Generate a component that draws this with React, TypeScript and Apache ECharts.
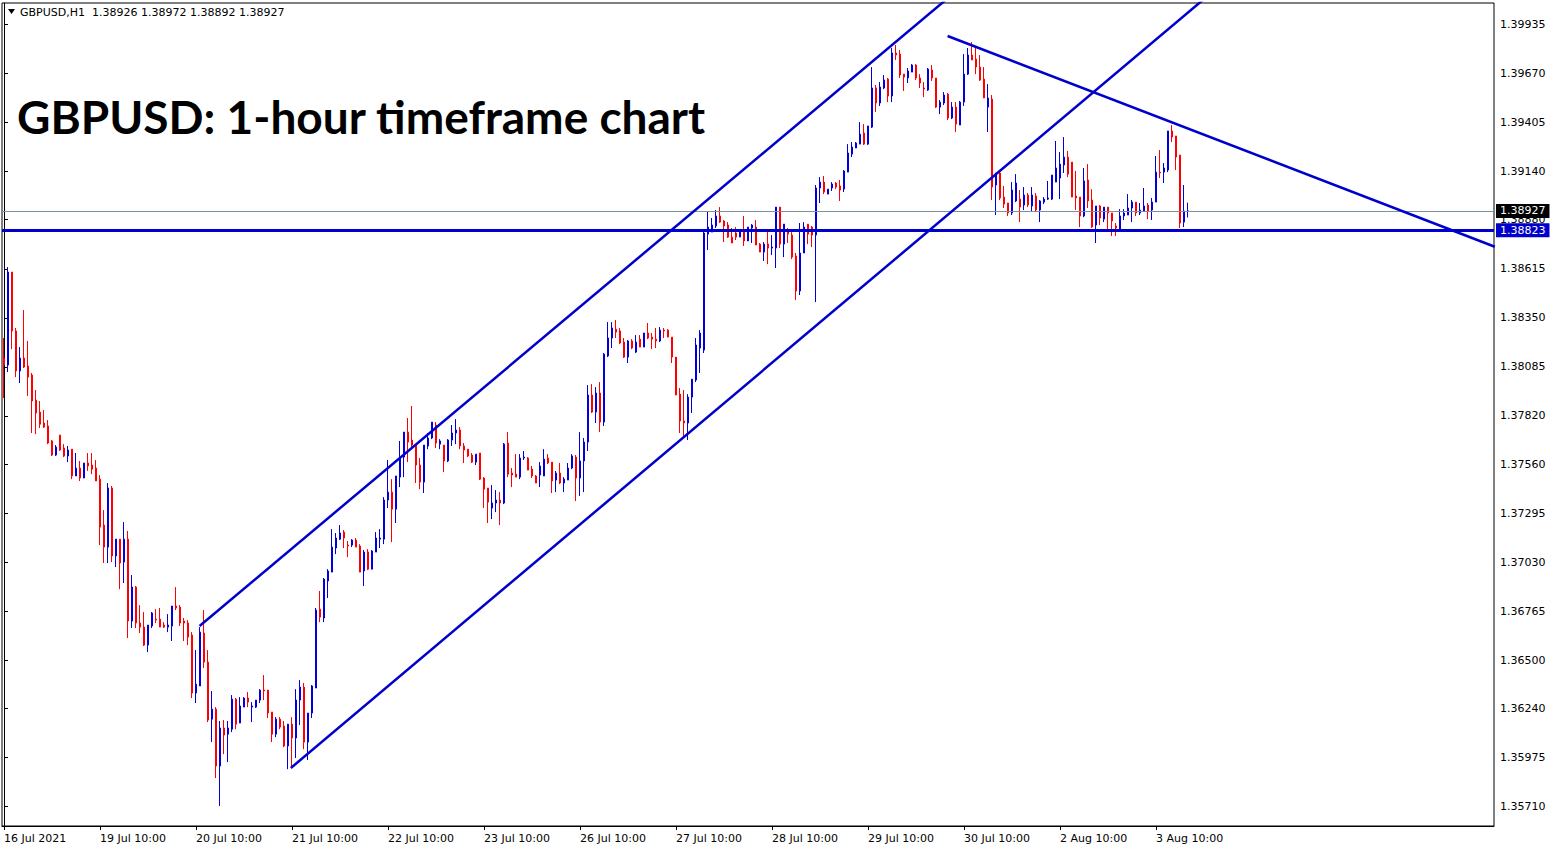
import React, { useEffect, useRef } from "react";
import * as echarts from "echarts";

// ---- Data (GBPUSD H1, 16 Jul 2021 10:00 .. 3 Aug 2021 18:00) ----
const openPrices = [
  1.38133,1.38095,1.38597,1.38279,1.38063,1.38133,1.38090,1.38041,1.37906,1.37841,
  1.37782,1.37766,1.37685,1.37609,1.37717,1.37647,1.37604,1.37641,1.37496,1.37539,
  1.37485,1.37566,1.37555,1.37539,1.37479,1.37231,1.37112,1.37431,1.37064,1.37155,
  1.37031,1.37155,1.36713,1.36896,1.36702,1.36680,1.36583,1.36686,1.36723,1.36723,
  1.36691,1.36680,1.36686,1.36794,1.36788,1.36713,1.36702,1.36637,1.36324,1.36362,
  1.36648,1.36491,1.36183,1.36237,1.35930,1.36135,1.36102,1.36129,1.36291,1.36162,
  1.36248,1.36297,1.36248,1.36248,1.36286,1.36340,1.36340,1.36221,1.36102,1.36183,
  1.36146,1.36038,1.36156,1.36081,1.36286,1.36356,1.36059,1.36216,1.36351,1.36777,
  1.36729,1.36929,1.36977,1.37107,1.37155,1.37193,1.37123,1.37123,1.37150,1.37118,
  1.36983,1.37085,1.36993,1.37085,1.37155,1.37155,1.37366,1.37409,1.37317,1.37490,
  1.37598,1.37733,1.37690,1.37663,1.37555,1.37463,1.37658,1.37701,1.37771,1.37668,
  1.37663,1.37577,1.37690,1.37728,1.37744,1.37658,1.37641,1.37609,1.37571,1.37620,
  1.37485,1.37431,1.37323,1.37350,1.37366,1.37350,1.37674,1.37512,1.37506,1.37490,
  1.37593,1.37593,1.37533,1.37496,1.37501,1.37496,1.37593,1.37571,1.37474,1.37512,
  1.37458,1.37474,1.37539,1.37598,1.37485,1.37577,1.37679,1.37933,1.37841,1.37944,
  1.37787,1.38144,1.38241,1.38289,1.38279,1.38219,1.38138,1.38225,1.38165,1.38235,
  1.38192,1.38268,1.38246,1.38235,1.38225,1.38284,1.38284,1.38246,1.38138,1.37938,
  1.37793,1.37782,1.37922,1.38014,1.38187,1.38176,1.38802,1.38813,1.38846,1.38900,
  1.38873,1.38851,1.38786,1.38808,1.38786,1.38824,1.38765,1.38835,1.38840,1.38748,
  1.38705,1.38748,1.38727,1.38727,1.38948,1.38748,1.38819,1.38797,1.38684,1.38495,
  1.38700,1.38856,1.38840,1.38797,1.39051,1.39083,1.39018,1.39051,1.39078,1.39062,
  1.39045,1.39137,1.39234,1.39267,1.39288,1.39348,1.39288,1.39380,1.39591,1.39510,
  1.39591,1.39639,1.39548,1.39780,1.39774,1.39666,1.39645,1.39677,1.39715,1.39645,
  1.39591,1.39580,1.39688,1.39645,1.39488,1.39510,1.39558,1.39429,1.39488,1.39391,
  1.39515,1.39666,1.39769,1.39747,1.39704,1.39639,1.39488,1.39531,1.39067,1.39132,
  1.39002,1.38970,1.38916,1.38981,1.38991,1.38959,1.39013,1.38954,1.39008,1.38932,
  1.38975,1.38991,1.38991,1.39083,1.39105,1.39175,1.39218,1.39191,1.39008,1.39002,
  1.38900,1.39094,1.38986,1.38851,1.38954,1.38883,1.38948,1.38916,1.38846,1.38829,
  1.38900,1.38905,1.38943,1.38975,1.38916,1.38927,1.38959,1.38932,1.38975,1.39137,
  1.39137,1.39148,1.39359,1.39332,1.39229,1.38867,1.38926,
];

const closePrices = [
  1.38095,1.38597,1.38279,1.38063,1.38133,1.38084,1.38030,1.37901,1.37836,1.37776,
  1.37760,1.37674,1.37609,1.37652,1.37636,1.37604,1.37636,1.37496,1.37539,1.37485,
  1.37566,1.37550,1.37533,1.37469,1.37220,1.37112,1.37431,1.37064,1.37155,1.37026,
  1.37155,1.36713,1.36896,1.36702,1.36680,1.36583,1.36691,1.36756,1.36718,1.36680,
  1.36680,1.36691,1.36794,1.36783,1.36702,1.36702,1.36626,1.36324,1.36372,1.36653,
  1.36491,1.36178,1.36237,1.35930,1.36135,1.36097,1.36135,1.36291,1.36156,1.36254,
  1.36297,1.36275,1.36254,1.36286,1.36340,1.36335,1.36216,1.36102,1.36183,1.36140,
  1.36038,1.36156,1.36081,1.36286,1.36356,1.36059,1.36216,1.36362,1.36772,1.36734,
  1.36939,1.36983,1.37112,1.37161,1.37188,1.37161,1.37118,1.37150,1.37112,1.36977,
  1.37085,1.36993,1.37091,1.37161,1.37161,1.37366,1.37409,1.37317,1.37496,1.37598,
  1.37733,1.37679,1.37663,1.37555,1.37463,1.37663,1.37701,1.37787,1.37674,1.37685,
  1.37577,1.37690,1.37728,1.37744,1.37658,1.37636,1.37604,1.37571,1.37614,1.37479,
  1.37425,1.37355,1.37350,1.37366,1.37350,1.37668,1.37506,1.37501,1.37490,1.37593,
  1.37598,1.37528,1.37496,1.37458,1.37550,1.37587,1.37566,1.37469,1.37512,1.37458,
  1.37479,1.37539,1.37604,1.37485,1.37577,1.37679,1.37933,1.37841,1.37944,1.37787,
  1.38154,1.38241,1.38295,1.38273,1.38214,1.38138,1.38225,1.38187,1.38219,1.38192,
  1.38268,1.38241,1.38235,1.38225,1.38284,1.38279,1.38246,1.38138,1.37933,1.37793,
  1.37782,1.37922,1.38019,1.38203,1.38268,1.38808,1.38840,1.38851,1.38900,1.38867,
  1.38846,1.38786,1.38754,1.38786,1.38819,1.38765,1.38840,1.38851,1.38743,1.38705,
  1.38748,1.38727,1.38732,1.38948,1.38748,1.38856,1.38802,1.38678,1.38495,1.38700,
  1.38840,1.38802,1.38797,1.39051,1.39083,1.39029,1.39045,1.39072,1.39056,1.39040,
  1.39143,1.39240,1.39272,1.39294,1.39342,1.39288,1.39386,1.39591,1.39510,1.39596,
  1.39634,1.39548,1.39780,1.39769,1.39661,1.39650,1.39683,1.39715,1.39645,1.39618,
  1.39585,1.39693,1.39645,1.39488,1.39515,1.39553,1.39429,1.39488,1.39396,1.39515,
  1.39666,1.39769,1.39742,1.39704,1.39634,1.39537,1.39537,1.39056,1.39132,1.38997,
  1.38964,1.38916,1.39040,1.39078,1.38948,1.39013,1.38959,1.39013,1.38932,1.38981,
  1.38991,1.38997,1.39121,1.39159,1.39180,1.39218,1.39126,1.39002,1.38997,1.38900,
  1.39089,1.38981,1.38840,1.38954,1.38889,1.38948,1.38916,1.38873,1.38835,1.38900,
  1.38916,1.38943,1.38975,1.38916,1.38932,1.38954,1.38927,1.38975,1.39137,1.39132,
  1.39159,1.39359,1.39326,1.39218,1.38862,1.38927,1.38927,
];

const highPrices = [
  1.38241,1.38624,1.38597,1.38295,1.38192,1.38392,1.38225,1.38052,1.37960,1.37901,
  1.37852,1.37798,1.37690,1.37663,1.37717,1.37668,1.37658,1.37641,1.37620,1.37577,
  1.37566,1.37620,1.37620,1.37582,1.37501,1.37312,1.37458,1.37442,1.37155,1.37155,
  1.37247,1.37199,1.36961,1.36902,1.36799,1.36761,1.36691,1.36761,1.36777,1.36783,
  1.36707,1.36750,1.36794,1.36896,1.36799,1.36729,1.36718,1.36653,1.36556,1.36680,
  1.36772,1.36556,1.36335,1.36248,1.36173,1.36178,1.36173,1.36313,1.36297,1.36302,
  1.36302,1.36329,1.36275,1.36286,1.36345,1.36421,1.36340,1.36221,1.36194,1.36194,
  1.36173,1.36156,1.36194,1.36345,1.36394,1.36378,1.36216,1.36367,1.36783,1.36875,
  1.36945,1.36993,1.37209,1.37188,1.37231,1.37204,1.37145,1.37155,1.37161,1.37128,
  1.37096,1.37101,1.37096,1.37193,1.37209,1.37382,1.37582,1.37479,1.37496,1.37685,
  1.37733,1.37809,1.37874,1.37663,1.37593,1.37663,1.37728,1.37787,1.37787,1.37695,
  1.37663,1.37695,1.37771,1.37803,1.37760,1.37674,1.37641,1.37620,1.37614,1.37620,
  1.37490,1.37431,1.37447,1.37420,1.37409,1.37674,1.37733,1.37539,1.37614,1.37614,
  1.37631,1.37598,1.37550,1.37501,1.37571,1.37641,1.37614,1.37571,1.37523,1.37566,
  1.37490,1.37566,1.37614,1.37609,1.37733,1.37701,1.37987,1.37992,1.37976,1.38003,
  1.38160,1.38327,1.38327,1.38338,1.38295,1.38241,1.38230,1.38235,1.38257,1.38257,
  1.38268,1.38322,1.38268,1.38295,1.38300,1.38295,1.38289,1.38246,1.38138,1.37971,
  1.37960,1.37938,1.38019,1.38241,1.38284,1.38819,1.38927,1.38889,1.38932,1.38948,
  1.38878,1.38867,1.38835,1.38840,1.38819,1.38900,1.38840,1.38856,1.38878,1.38754,
  1.38759,1.38813,1.38797,1.38948,1.38948,1.38856,1.38835,1.38813,1.38700,1.38862,
  1.38867,1.38856,1.38846,1.39067,1.39110,1.39116,1.39045,1.39083,1.39083,1.39094,
  1.39148,1.39288,1.39299,1.39299,1.39407,1.39396,1.39386,1.39704,1.39607,1.39623,
  1.39661,1.39645,1.39807,1.39823,1.39796,1.39666,1.39699,1.39720,1.39720,1.39666,
  1.39623,1.39699,1.39715,1.39645,1.39526,1.39569,1.39564,1.39515,1.39515,1.39521,
  1.39774,1.39807,1.39839,1.39807,1.39769,1.39704,1.39612,1.39553,1.39132,1.39148,
  1.39062,1.38970,1.39083,1.39126,1.39040,1.39056,1.39024,1.39056,1.39024,1.38986,
  1.39002,1.39089,1.39121,1.39305,1.39245,1.39326,1.39251,1.39191,1.39143,1.39002,
  1.39159,1.39180,1.39045,1.38954,1.38959,1.38948,1.38948,1.38916,1.38862,1.38937,
  1.38937,1.39018,1.38986,1.38975,1.38970,1.39051,1.38970,1.38997,1.39224,1.39256,
  1.39186,1.39359,1.39391,1.39332,1.39229,1.39067,1.38972,
];

const lowPrices = [
  1.37917,1.38057,1.38181,1.38030,1.37998,1.38079,1.37928,1.37728,1.37722,1.37755,
  1.37755,1.37668,1.37604,1.37604,1.37631,1.37598,1.37571,1.37479,1.37496,1.37469,
  1.37485,1.37523,1.37506,1.37469,1.37123,1.37026,1.37026,1.37031,1.37004,1.36885,
  1.36918,1.36621,1.36675,1.36675,1.36648,1.36578,1.36545,1.36675,1.36702,1.36680,
  1.36675,1.36653,1.36605,1.36772,1.36686,1.36605,1.36583,1.36297,1.36270,1.36362,
  1.36459,1.36167,1.36059,1.35865,1.35714,1.35994,1.35951,1.36113,1.36129,1.36162,
  1.36248,1.36248,1.36167,1.36243,1.36270,1.36286,1.36189,1.36059,1.36086,1.36129,
  1.36032,1.35913,1.35924,1.35973,1.36151,1.36021,1.35962,1.36189,1.36351,1.36707,
  1.36707,1.36837,1.36977,1.37074,1.37150,1.37107,1.37058,1.37112,1.37112,1.36977,
  1.36902,1.36988,1.36993,1.37085,1.37107,1.37128,1.37323,1.37139,1.37242,1.37436,
  1.37490,1.37571,1.37652,1.37458,1.37425,1.37404,1.37641,1.37695,1.37647,1.37641,
  1.37517,1.37571,1.37658,1.37668,1.37641,1.37566,1.37598,1.37566,1.37555,1.37474,
  1.37323,1.37242,1.37263,1.37301,1.37231,1.37344,1.37490,1.37436,1.37490,1.37479,
  1.37582,1.37528,1.37485,1.37458,1.37436,1.37496,1.37560,1.37404,1.37409,1.37452,
  1.37409,1.37474,1.37533,1.37361,1.37388,1.37409,1.37631,1.37836,1.37782,1.37733,
  1.37766,1.38138,1.38187,1.38241,1.38208,1.38133,1.38106,1.38181,1.38160,1.38192,
  1.38192,1.38235,1.38181,1.38187,1.38219,1.38241,1.38246,1.38106,1.37933,1.37728,
  1.37712,1.37690,1.37836,1.38003,1.38052,1.38160,1.38716,1.38813,1.38835,1.38862,
  1.38759,1.38781,1.38754,1.38770,1.38786,1.38738,1.38765,1.38754,1.38743,1.38705,
  1.38657,1.38640,1.38689,1.38619,1.38727,1.38678,1.38754,1.38667,1.38446,1.38473,
  1.38700,1.38748,1.38732,1.38435,1.38970,1.39018,1.39018,1.39035,1.39045,1.38981,
  1.39029,1.39137,1.39218,1.39267,1.39288,1.39283,1.39283,1.39375,1.39461,1.39494,
  1.39585,1.39515,1.39515,1.39742,1.39645,1.39575,1.39618,1.39677,1.39634,1.39591,
  1.39542,1.39575,1.39629,1.39483,1.39450,1.39499,1.39418,1.39423,1.39353,1.39391,
  1.39494,1.39661,1.39742,1.39666,1.39629,1.39537,1.39353,1.38986,1.38905,1.38986,
  1.38943,1.38900,1.38905,1.38975,1.38867,1.38932,1.38948,1.38927,1.38921,1.38867,
  1.38964,1.38986,1.38986,1.39083,1.38991,1.39132,1.39110,1.39002,1.38932,1.38840,
  1.38894,1.38943,1.38835,1.38754,1.38851,1.38867,1.38829,1.38792,1.38792,1.38829,
  1.38878,1.38905,1.38867,1.38900,1.38905,1.38927,1.38883,1.38878,1.38975,1.39105,
  1.39078,1.39137,1.39299,1.39148,1.38835,1.38840,1.38892,
];

const priceTicks = [
  1.39935, 1.3967, 1.39405, 1.3914, 1.3888, 1.38615, 1.3835, 1.38085, 1.3782,
  1.3756, 1.37295, 1.3703, 1.36765, 1.365, 1.3624, 1.35975, 1.3571,
];
const priceMin = 1.35606;
const priceMax = 1.4005;
const bidPrice = 1.38927;
const supportPrice = 1.38823;
// trend lines: [bar index, price] anchor pairs
const channelUpper = [[48.9, 1.36686], [235.4, 1.40066]];
const channelLower = [[71.7, 1.35919], [299.7, 1.40066]];
const resistanceLine = [[235.9, 1.39872], [372.7, 1.38734]];

const headerText = "GBPUSD,H1  1.38926 1.38972 1.38892 1.38927";
const titleText = "GBPUSD: 1-hour timeframe chart";
const TOTAL_SLOTS = 373; // bars + empty chart shift on the right
const LABEL_EVERY = 24;
const LAST_LABEL_INDEX = 288;

const MONTHS = ["Jan", "Feb", "Mar", "Apr", "May", "Jun", "Jul", "Aug", "Sep", "Oct", "Nov", "Dec"];

function buildCategories(count: number): string[] {
  const out: string[] = [];
  let t = Date.UTC(2021, 6, 16, 10);
  while (out.length < count) {
    const d = new Date(t);
    const wd = d.getUTCDay();
    if (wd !== 0 && wd !== 6) {
      const hh = String(d.getUTCHours()).padStart(2, "0");
      out.push(`${d.getUTCDate()} ${MONTHS[d.getUTCMonth()]} ${hh}:00`);
    }
    t += 3600 * 1000;
  }
  return out;
}

const FONT = "DejaVu Sans";
const BULL = "#0000DD";
const BEAR = "#FF0000";
const LINE_BLUE = "#0000CC";

const priceLabel = (bg: string) => ({
  show: true,
  position: "end",
  backgroundColor: bg,
  color: "#fff",
  padding: [2, 4, 1, 4],
  fontFamily: FONT,
  fontSize: 11,
  distance: 2,
});

export default function App() {
  const ref = useRef<HTMLDivElement>(null);

  useEffect(() => {
    document.body.style.margin = "0";
    if (!ref.current) return;
    const chart = echarts.init(ref.current, undefined, { renderer: "svg" });
    const categories = buildCategories(TOTAL_SLOTS);
    const n = Math.min(openPrices.length, closePrices.length, highPrices.length, lowPrices.length);
    const candles: number[][] = [];
    for (let i = 0; i < n; i++) {
      candles.push([openPrices[i], closePrices[i], lowPrices[i], highPrices[i]]);
    }
    const showLabel = (idx: number) => idx % LABEL_EVERY === 0 && idx <= LAST_LABEL_INDEX;

    const trend = (data: number[][], extra: any = {}) => ({
      type: "line",
      xAxisIndex: 1,
      yAxisIndex: 0,
      data,
      showSymbol: false,
      symbol: "none",
      silent: true,
      clip: true,
      z: 5,
      lineStyle: { color: LINE_BLUE, width: 2.5 },
      ...extra,
    });

    chart.setOption({
      animation: false,
      backgroundColor: "#ffffff",
      grid: {
        left: 2,
        top: 3,
        width: 1492,
        height: 823,
        show: true,
        borderColor: "#000",
        borderWidth: 1,
        backgroundColor: "transparent",
      },
      xAxis: [
        {
          type: "category",
          data: categories,
          boundaryGap: true,
          axisLine: { show: true, lineStyle: { color: "#000", width: 1 } },
          axisTick: {
            show: true,
            interval: (idx: number) => showLabel(idx),
            alignWithLabel: true,
            length: 4,
            lineStyle: { color: "#000" },
          },
          axisLabel: {
            interval: (idx: number) => showLabel(idx),
            formatter: (v: string, idx: number) => (idx === 0 ? "16 Jul 2021" : v),
            align: "left",
            color: "#000",
            fontFamily: FONT,
            fontSize: 11,
            margin: 7,
          },
          splitLine: { show: false },
        },
        {
          type: "value",
          min: -0.5,
          max: TOTAL_SLOTS - 0.5,
          show: false,
        },
      ],
      yAxis: {
        type: "value",
        position: "right",
        min: priceMin,
        max: priceMax,
        splitLine: { show: false },
        axisLine: { show: true, lineStyle: { color: "#000" } },
        axisTick: { show: true, customValues: priceTicks, length: 4, lineStyle: { color: "#000" } },
        axisLabel: {
          customValues: priceTicks,
          formatter: (v: number) => v.toFixed(5),
          color: "#000",
          fontFamily: FONT,
          fontSize: 11,
          margin: 6,
        },
      },
      series: [
        {
          type: "candlestick",
          data: candles,
          barWidth: 2,
          xAxisIndex: 0,
          yAxisIndex: 0,
          itemStyle: {
            color: BULL,
            color0: BEAR,
            borderColor: BULL,
            borderColor0: BEAR,
            borderColorDoji: BULL,
            borderWidth: 1,
          },
        },
        trend(channelUpper),
        trend(channelLower),
        trend(resistanceLine, {
          markLine: {
            silent: true,
            precision: 5,
            symbol: ["none", "none"],
            data: [
              {
                yAxis: bidPrice,
                lineStyle: { color: "#8090A0", width: 1, type: "solid" },
                label: { ...priceLabel("#000"), formatter: bidPrice.toFixed(5) },
              },
              {
                yAxis: supportPrice,
                lineStyle: { color: LINE_BLUE, width: 3, type: "solid" },
                label: { ...priceLabel(LINE_BLUE), formatter: supportPrice.toFixed(5) },
              },
            ],
          },
        }),
      ],
      graphic: [
        {
          type: "polygon",
          shape: { points: [[8, 9], [15, 9], [11.5, 14]] },
          style: { fill: "#000" },
        },
        {
          type: "text",
          x: 20,
          y: 12,
          style: {
            text: headerText,
            font: `11px "${FONT}"`,
            fill: "#000",
            verticalAlign: "middle",
          },
        },
        {
          type: "text",
          x: 17,
          y: 116,
          style: {
            text: titleText,
            font: `bold 46px Lato`,
            fill: "#000",
            verticalAlign: "middle",
          },
        },
      ],
    });

    return () => chart.dispose();
  }, []);

  return <div ref={ref} style={{ width: 1558, height: 850 }} />;
}
